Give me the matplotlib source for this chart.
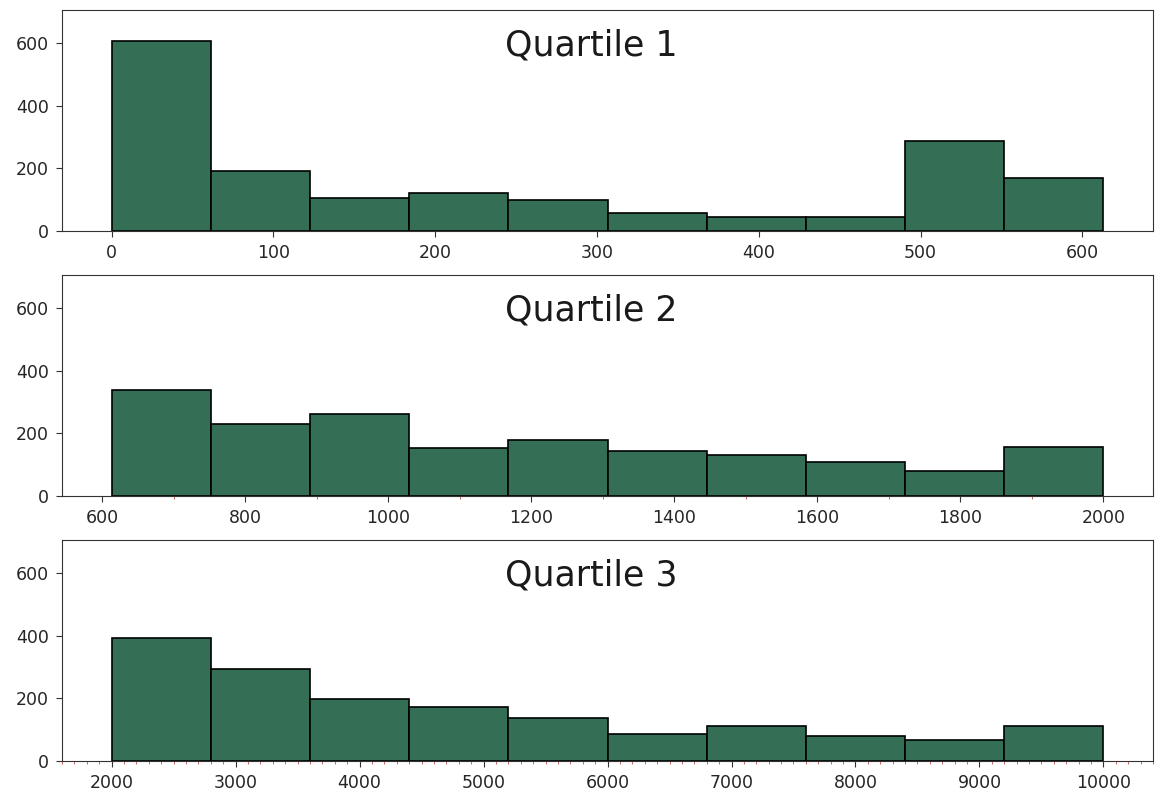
import matplotlib
matplotlib.use("Agg")
import matplotlib.pyplot as plt
from matplotlib.ticker import MultipleLocator
import numpy as np

# bin edges and counts
q1_edges = [0, 61.3, 122.6, 183.9, 245.2, 306.5, 367.8, 429.1, 490.4, 551.7, 613]
q1_counts = [605, 192, 105, 120, 99, 57, 45, 45, 287, 169]

q2_edges = [613, 751.7, 890.4, 1029.1, 1167.8, 1306.5, 1445.2, 1583.9, 1722.6, 1861.3, 2000]
q2_counts = [337, 231, 263, 152, 180, 145, 132, 107, 81, 155]

q3_edges = [2000, 2800, 3600, 4400, 5200, 6000, 6800, 7600, 8400, 9200, 10000]
q3_counts = [393, 294, 198, 172, 137, 86, 112, 80, 67, 112]

titles = ["Quartile 1", "Quartile 2", "Quartile 3"]
bar_color = "#346f55"

fig = plt.figure(figsize=(11.55, 7.96), dpi=100)
left, width, height = 0.0537, 0.9446, 0.2776
bottoms = [0.7098, 0.3769, 0.0440]

data = [(q1_edges, q1_counts), (q2_edges, q2_counts), (q3_edges, q3_counts)]

for i, ((edges, counts), title) in enumerate(zip(data, titles)):
    ax = fig.add_axes([left, bottoms[i], width, height])
    edges = np.array(edges)
    ax.bar(edges[:-1], counts, width=np.diff(edges), align="edge",
           color=bar_color, edgecolor="black", linewidth=1.2)
    ax.set_ylim(0, 705)
    ax.set_yticks([0, 200, 400, 600])
    ax.tick_params(labelsize=12.5, length=4.5, pad=5, color="#333333",
                   labelcolor="#262626")
    ax.text(0.485, 0.84, title, transform=ax.transAxes, ha="center", va="center",
            fontsize=25, color="#1a1a1a")
    for s in ax.spines.values():
        s.set_color("#333333")
    if i == 1:
        ax.set_xticks([600, 800, 1000, 1200, 1400, 1600, 1800, 2000])
    if i > 0:
        ax.xaxis.set_minor_locator(MultipleLocator(100))
        ax.tick_params(axis="x", which="minor", length=2.5, color="#c0504d")

fig.savefig("out.png", dpi=100)
